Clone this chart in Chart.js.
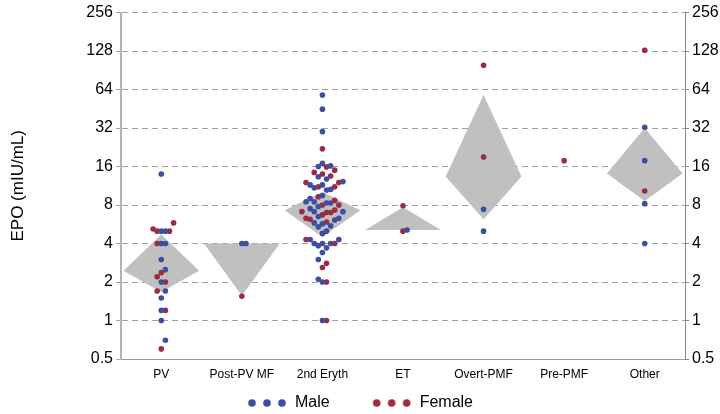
<!DOCTYPE html>
<html>
<head>
<meta charset="utf-8">
<script src="https://cdn.jsdelivr.net/npm/chart.js@4.4.0/dist/chart.umd.min.js"></script>
<style>
  html, body { margin: 0; padding: 0; background: #fff; }
</style>
</head>
<body>
<canvas id="epoChart" width="720" height="414"></canvas>
<script>
const categories = ['PV', 'Post-PV MF', '2nd Eryth', 'ET', 'Overt-PMF', 'Pre-PMF', 'Other'];

// EPO (mIU/mL) per category
const maleEPO = [
  [14, 5, 5, 4, 4, 3, 2.5, 2, 1.7, 1.5, 1.2, 1, 0.7],
  [4, 4],
  [58, 45, 30, 17, 16, 16.2, 12.8, 13.3, 11.5, 10.9, 10.5, 10.6, 11.5, 12.2, 9, 9.5, 8.5, 8.3,
   7.8, 7.5, 8.3, 8.5, 6.1, 6.3, 6.5, 7.1, 7.1, 5.8, 5.7, 5.5, 5.4, 4.8, 5, 4, 4, 3.85, 4,
   4.3, 4.3, 3.7, 3.4, 3, 2.1, 2, 1],
  [5.1],
  [7.4, 5],
  [],
  [32.5, 17.8, 8.2, 4]
];
const femaleEPO = [
  [5.8, 5.2, 5, 5, 4, 2.37, 2.2, 2, 1.7, 1.2, 0.6],
  [1.55],
  [22, 15, 15.9, 14.4, 13.5, 14, 12, 11.1, 11.1, 12, 9.3, 8.7, 8, 7.3, 8, 7.1, 7, 6.7, 6.3,
   5.9, 6.2, 7, 4.3, 4, 2.8, 2.6, 2, 1],
  [7.9, 5],
  [99, 19],
  [17.8],
  [130, 10.3]
];

// grey diamonds: centre and lower / upper limits
const diamondMean = [2.45, 4, 7.3, 5.1, 13.4, null, 14.1];
const diamondLow  = [1.67, 1.56, 4.5, 5.1, 6.2, null, 8.6];
const diamondHigh = [4.7, 4, 10.1, 7.7, 58, null, 32];

const yTicks = [0.5, 1, 2, 4, 8, 16, 32, 64, 128, 256];

const BLUE = '#3b4ea3';
const RED = '#9e2a40';
const GREY = '#c0c0c0';
const HALF = 0.47;

Chart.defaults.font.family = '"Liberation Sans", Arial, sans-serif';
Chart.defaults.color = '#000';

// simple beeswarm so dots with close values sit side by side
const PX_PER_CAT = 80.6, PX_PER_OCT = 38.6, STEP_X = 4.1, STEP_Y = 9;
function swarm(ci) {
  const pts = [];
  maleEPO[ci].forEach(v => pts.push({ v, sex: 'm' }));
  femaleEPO[ci].forEach(v => pts.push({ v, sex: 'f' }));
  pts.sort((a, b) => a.v - b.v);
  const placed = [];
  pts.forEach(p => {
    const py = Math.log2(p.v) * PX_PER_OCT;
    for (let k = 0; k < 60; k++) {
      const off = (k % 2 ? 1 : -1) * Math.ceil(k / 2) * STEP_X;
      const free = placed.every(q => {
        const dx = (q.px - off) / STEP_X, dy = (q.py - py) / STEP_Y;
        return dx * dx + dy * dy >= 0.999;
      });
      if (free) { p.px = off; p.py = py; placed.push(p); break; }
    }
  });
  return pts.map(p => ({ x: ci + p.px / PX_PER_CAT, y: Math.log2(p.v), sex: p.sex }));
}

const allPoints = categories.flatMap((c, i) => swarm(i));
const malePts = allPoints.filter(p => p.sex === 'm');
const femalePts = allPoints.filter(p => p.sex === 'f');

const diamondSets = [];
categories.forEach((c, i) => {
  if (diamondMean[i] == null) return;
  const m = Math.log2(diamondMean[i]);
  const base = { type: 'line', borderColor: 'transparent', borderWidth: 0, pointRadius: 0, tension: 0 };
  diamondSets.push({ ...base, data: [{ x: i - HALF, y: m }, { x: i, y: Math.log2(diamondHigh[i]) }, { x: i + HALF, y: m }], fill: false });
  diamondSets.push({ ...base, data: [{ x: i - HALF, y: m }, { x: i, y: Math.log2(diamondLow[i]) }, { x: i + HALF, y: m }], fill: '-1', backgroundColor: GREY });
});

function legendIcon(color) {
  const c = document.createElement('canvas');
  c.width = 40; c.height = 10;
  const g = c.getContext('2d');
  g.fillStyle = color;
  [5, 20, 35].forEach(x => { g.beginPath(); g.arc(x, 5, 3.8, 0, Math.PI * 2); g.fill(); });
  return c;
}

const yAxisBase = {
  type: 'linear', min: -1, max: 8,
  afterBuildTicks: s => { s.ticks = yTicks.map(t => ({ value: Math.log2(t) })); },
  ticks: { callback: (v, i) => String(yTicks[i]), font: { size: 16 }, color: '#000', padding: 3 }
};

new Chart(document.getElementById('epoChart'), {
  type: 'scatter',
  data: {
    datasets: [
      { label: 'Male', data: malePts, backgroundColor: BLUE, pointRadius: 2.8, pointBorderWidth: 0 },
      { label: 'Female', data: femalePts, backgroundColor: RED, pointRadius: 2.8, pointBorderWidth: 0 },
      ...diamondSets
    ]
  },
  options: {
    responsive: false,
    animation: false,
    layout: { padding: { top: 12, left: 0, right: 0, bottom: 0 } },
    scales: {
      x: {
        type: 'linear', min: -0.5, max: 6.5,
        afterBuildTicks: s => { s.ticks = categories.map((c, i) => ({ value: i })); },
        afterFit: s => { s.height = 26; },
        ticks: { callback: (v, i) => categories[i], font: { size: 12 }, color: '#000', padding: 8, autoSkip: false, maxRotation: 0 },
        grid: { display: false, drawTicks: false },
        border: { display: true, color: '#999', width: 1 }
      },
      y: {
        ...yAxisBase,
        position: 'left',
        afterFit: s => { s.width = 121; },
        title: { display: true, text: 'EPO (mIU/mL)', font: { size: 17 }, color: '#000', padding: { top: 8, bottom: 0 } },
        grid: { color: '#a0a0a0', lineWidth: 1, tickLength: 5, tickColor: '#a0a0a0' },
        border: { display: true, color: '#b4b4b4', width: 2, dash: [6, 4] }
      },
      y2: {
        ...yAxisBase,
        position: 'right',
        afterFit: s => { s.width = 35; },
        grid: { drawOnChartArea: false, tickLength: 4, tickColor: '#888' },
        border: { display: true, color: '#888', width: 1 }
      }
    },
    plugins: {
      tooltip: { enabled: false },
      legend: {
        position: 'bottom',
        maxHeight: 29,
        labels: {
          usePointStyle: true,
          pointStyleWidth: 40,
          padding: 10,
          font: { size: 16 },
          color: '#000',
          generateLabels: chart => chart.data.datasets
            .map((ds, i) => ({
              text: ds.label ? (i === 0 ? ds.label + '\u2003\u2003' : ds.label) : '',
              datasetIndex: i,
              pointStyle: legendIcon(ds.backgroundColor),
              fillStyle: ds.backgroundColor,
              strokeStyle: ds.backgroundColor,
              lineWidth: 0,
              hidden: false
            }))
            .filter(l => l.text)
        }
      }
    }
  }
});
</script>
</body>
</html>
